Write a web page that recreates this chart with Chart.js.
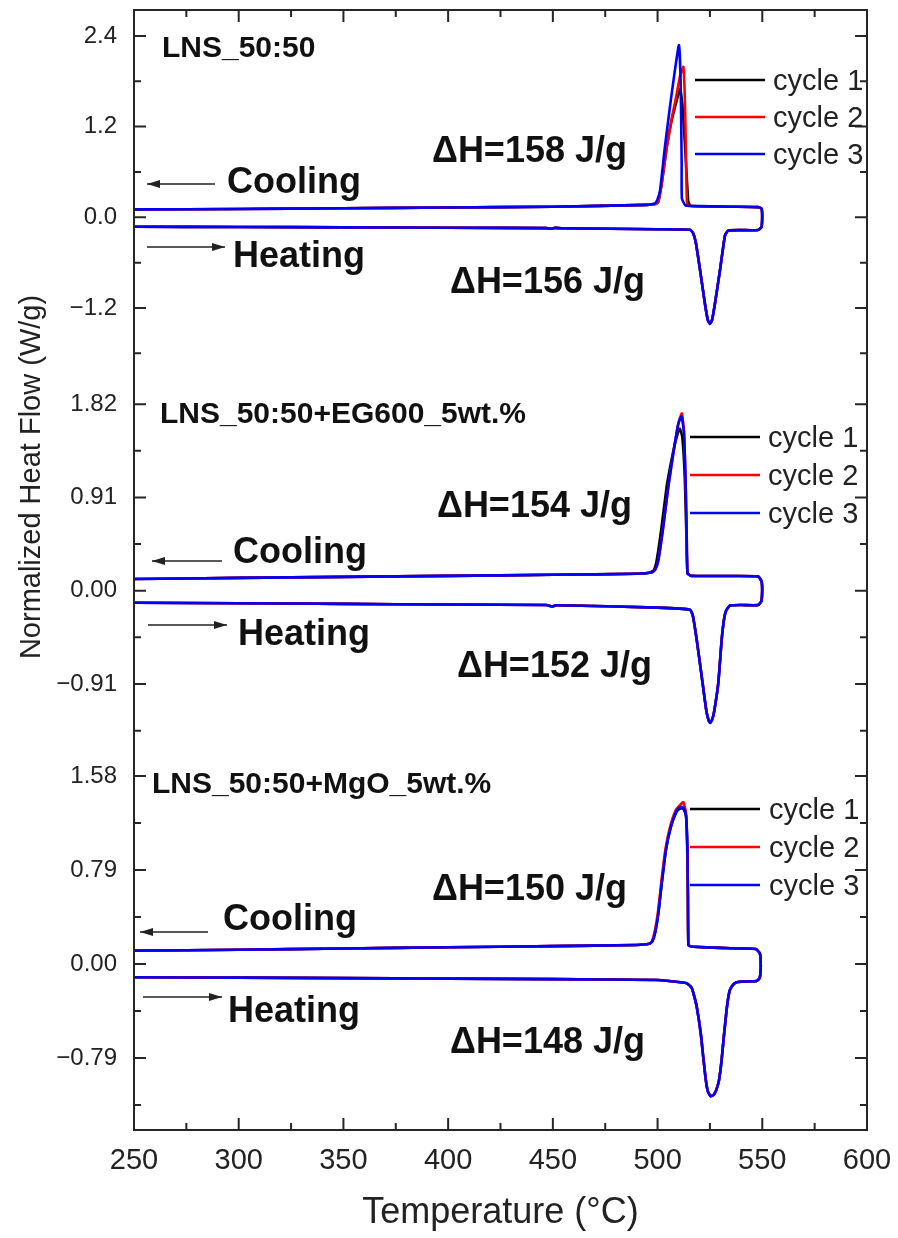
<!DOCTYPE html>
<html>
<head>
<meta charset="utf-8">
<title>DSC cycles</title>
<script src="https://cdn.jsdelivr.net/npm/chart.js@4.4.1/dist/chart.umd.min.js"></script>
<style>
  html, body { margin: 0; padding: 0; background: #fff; }
  canvas { display: block; }
</style>
</head>
<body>
<canvas id="dsc" width="898" height="1238"></canvas>
<script>
// x axis (°C)
const tempTicks = [250, 300, 350, 400, 450, 500, 550, 600];

// y ticks for each stacked panel (W/g)
const ticksA = [-1.2, 0, 1.2, 2.4];
const ticksB = [-0.91, 0, 0.91, 1.82];
const ticksC = [-0.79, 0, 0.79, 1.58];

const cycles = ['cycle 1', 'cycle 2', 'cycle 3'];
const cycleColors = ['#000000', '#ff0000', '#0000ff'];

const panelNames = ['LNS_50:50', 'LNS_50:50+EG600_5wt.%', 'LNS_50:50+MgO_5wt.%'];
const enthalpyCool = [158, 154, 150];
const enthalpyHeat = [156, 152, 148];

// [temperature, heat flow]: heating 250 -> 550, isothermal turn, cooling 550 -> 250
const heatA = [[250,-0.125],[300,-0.128],[350,-0.133],[400,-0.138],[447,-0.143],[449.5,-0.152],[451,-0.14],[454,-0.145],[500,-0.158],[515.5,-0.165],[517,-0.21],[518.3,-0.34],[520.3,-0.70],[522.6,-1.14],[524,-1.36],[525,-1.41],[526,-1.36],[527.4,-1.14],[529.8,-0.70],[531.4,-0.38],[532.3,-0.23],[533.8,-0.175],[540,-0.17],[548,-0.168],[549.6,-0.13],[549.9,-0.05],[549.9,0.07],[549.6,0.115],[548,0.135],[535,0.14],[516,0.15]];
const coolA1 = [[515.5,0.16],[514.7,0.2],[514,0.5],[513,1.0],[511.8,1.5],[510.7,1.70],[508.9,1.52],[506.7,1.28],[504.4,0.93],[502,0.45],[500.3,0.2],[498.8,0.175],[495,0.165],[450,0.14],[400,0.13],[350,0.12],[300,0.11],[250,0.105]];
const coolA2 = [[514.2,0.17],[513.9,0.3],[513.5,0.9],[513.0,1.6],[512.3,1.99],[510.8,1.88],[508.9,1.6],[506.7,1.3],[504.4,0.93],[502,0.45],[500.3,0.2],[498.8,0.175],[495,0.165],[450,0.14],[400,0.13],[350,0.12],[300,0.11],[250,0.105]];
const coolA3 = [[513.2,0.16],[511.6,0.25],[511.5,0.71],[511.0,1.82],[510.2,2.28],[508.3,1.95],[505.9,1.46],[503.5,0.93],[501.2,0.36],[500,0.24],[498.8,0.185],[495,0.165],[450,0.14],[400,0.13],[350,0.12],[300,0.11],[250,0.105]];

const heatB = [[250,-0.117],[300,-0.122],[350,-0.128],[400,-0.135],[447,-0.14],[449.5,-0.155],[451.5,-0.142],[500,-0.165],[515.5,-0.185],[516.8,-0.24],[518.7,-0.48],[521.1,-0.84],[523.2,-1.16],[524.3,-1.26],[525.1,-1.29],[526,-1.26],[527,-1.18],[529,-0.90],[530.6,-0.48],[531.8,-0.27],[532.8,-0.19],[534.6,-0.145],[540,-0.14],[548,-0.14],[549.6,-0.1],[549.9,-0.03],[549.9,0.05],[549.6,0.095],[548,0.14],[530,0.143],[516,0.145]];
const coolB1 = [[514.3,0.17],[513.8,0.5],[513,1.1],[511.8,1.5],[510.6,1.58],[508.5,1.45],[506.5,1.26],[504.3,1.01],[501.9,0.62],[499.6,0.30],[498.2,0.2],[496,0.175],[490,0.165],[450,0.155],[400,0.145],[350,0.135],[300,0.125],[250,0.114]];
const coolB2 = [[514.3,0.17],[513.9,0.56],[513.4,1.05],[512.6,1.56],[511.6,1.73],[510.6,1.68],[509.6,1.60],[507.5,1.34],[505.1,1.01],[502.7,0.62],[500.4,0.30],[499,0.21],[497.5,0.18],[490,0.165],[450,0.155],[400,0.145],[350,0.135],[300,0.125],[250,0.114]];
const coolB3 = [[514.3,0.17],[513.9,0.56],[513.4,1.05],[512.6,1.54],[511.5,1.70],[510.6,1.67],[509.6,1.60],[507.5,1.34],[505.1,1.01],[502.7,0.62],[500.4,0.30],[499,0.21],[497.5,0.18],[490,0.165],[450,0.155],[400,0.145],[350,0.135],[300,0.125],[250,0.114]];

const heatC = [[250,-0.112],[300,-0.115],[350,-0.119],[400,-0.123],[450,-0.127],[500,-0.135],[512,-0.155],[514,-0.163],[516.3,-0.20],[517.5,-0.27],[518.7,-0.36],[520.6,-0.58],[521.8,-0.78],[523,-0.97],[524,-1.07],[525.3,-1.11],[526.8,-1.10],[528,-1.06],[529.3,-0.98],[530.5,-0.82],[531.7,-0.6],[533,-0.38],[534.2,-0.24],[535.4,-0.19],[537.5,-0.155],[540,-0.148],[547.3,-0.143],[548.7,-0.12],[549.2,-0.06],[549.2,0.04],[548.8,0.09],[547,0.125],[540,0.13],[530,0.135],[517,0.145]];
const coolC1 = [[515.5,0.15],[514.7,0.16],[514.5,0.57],[514.2,0.99],[513.6,1.24],[512.5,1.30],[511.5,1.31],[510.2,1.30],[508.8,1.27],[506.3,1.15],[504,0.96],[502,0.68],[500.4,0.43],[498.8,0.26],[497.5,0.19],[496,0.17],[490,0.16],[450,0.15],[400,0.14],[350,0.13],[300,0.12],[250,0.112]];
const coolC2 = [[515.5,0.15],[514.7,0.16],[514.4,0.6],[514.1,1.0],[513.5,1.28],[512.3,1.36],[511,1.34],[508.6,1.29],[506.1,1.16],[503.8,0.97],[501.8,0.69],[500.2,0.44],[498.6,0.27],[497.3,0.19],[496,0.17],[490,0.16],[450,0.15],[400,0.14],[350,0.13],[300,0.12],[250,0.112]];
const coolC3 = [[515.5,0.15],[514.7,0.16],[514.5,0.57],[514.2,0.99],[513.6,1.25],[512.5,1.31],[511.5,1.32],[510.2,1.31],[508.8,1.28],[506.3,1.15],[504,0.96],[502,0.68],[500.4,0.43],[498.8,0.26],[497.5,0.19],[496,0.17],[490,0.16],[450,0.15],[400,0.14],[350,0.13],[300,0.12],[250,0.112]];

const FONT = 'Arial, "Liberation Sans", sans-serif';
const INK = '#222';

// panels top to bottom; axis ranges chosen so the three layers share the frame
const panels = [
  { id: 'yA', ticks: ticksA, digits: 1, min: -2.197, max: 2.743, heat: heatA, cool: [coolA1, coolA2, coolA3] },
  { id: 'yB', ticks: ticksB, digits: 2, min: -1.619, max: 2.023, heat: heatB, cool: [coolB1, coolB2, coolB3] },
  { id: 'yC', ticks: ticksC, digits: 2, min: -1.395, max: 1.742, heat: heatC, cool: [coolC1, coolC2, coolC3] },
];

// text / arrow / legend placement for each panel (canvas pixels)
const panelDecor = [
  { name: [162, 57], cool: [227, 193], heat: [233, 267], dhCool: [432, 162], dhHeat: [450, 293],
    arrowCool: [147, 215, 184], arrowHeat: [147, 225, 247], legend: { x1: 695, x2: 765, tx: 773, ys: [80, 117, 154] } },
  { name: [160, 423], cool: [233, 563], heat: [238, 645], dhCool: [437, 517], dhHeat: [457, 677],
    arrowCool: [152, 222, 561], arrowHeat: [148, 227, 625], legend: { x1: 690, x2: 760, tx: 768, ys: [437, 475, 513] } },
  { name: [152, 793], cool: [223, 930], heat: [228, 1022], dhCool: [432, 900], dhHeat: [450, 1053],
    arrowCool: [140, 208, 932], arrowHeat: [143, 222, 997], legend: { x1: 690, x2: 760, tx: 769, ys: [809, 847, 885] } },
];

const fmt = (digits) => (value) => {
  const s = Math.abs(value).toFixed(digits);
  return value < -1e-9 ? '\u2212' + s : s;
};

const minorTicks = (major, min, max) => {
  const step = major[1] - major[0];
  const out = [];
  for (let v = major[0] - step / 2; v <= max + 1e-9; v += step) {
    if (v >= min - 1e-9) out.push(v);
  }
  return out;
};

const toPoints = (pairs) => pairs.map(([x, y]) => ({ x, y }));

// label overflow padding would shrink the frame; the layout padding already covers it
const noOverflow = (s) => {
  s.paddingTop = 0;
  s.paddingBottom = 0;
  s.paddingLeft = 0;
  s.paddingRight = 0;
};

const datasets = [];
panels.forEach((p) => {
  p.cool.forEach((cool, i) => {
    datasets.push({
      label: cycles[i],
      data: toPoints(p.heat.concat(cool)),
      yAxisID: p.id,
      xAxisID: 'x',
      borderColor: cycleColors[i],
      borderWidth: 2.6,
      pointRadius: 0,
      showLine: true,
      fill: false,
      tension: 0.15,
      order: 3 - i, // blue on top
    });
  });
});

const scales = {
  x: {
    type: 'linear',
    position: 'bottom',
    min: 250,
    max: 600,
    afterBuildTicks: (s) => { s.ticks = tempTicks.map((value) => ({ value })); },
    afterFit: (s) => { s.height = 108; noOverflow(s); },
    grid: { display: false, drawTicks: false },
    border: { display: false },
    ticks: { padding: 14, color: INK, font: { size: 29 }, maxRotation: 0 },
    title: { display: true, text: 'Temperature (°C)', color: INK, font: { size: 36 }, padding: { top: 0, bottom: 3 } },
  },
};
// bottom panel first: chart.js stacks left axes with the last one on top
[...panels].reverse().forEach((p) => {
  scales[p.id] = {
    type: 'linear',
    position: 'left',
    stack: 'dsc',
    stackWeight: 1,
    min: p.min,
    max: p.max,
    afterBuildTicks: (s) => { s.ticks = p.ticks.map((value) => ({ value })); },
    afterFit: (s) => { s.width = 134; noOverflow(s); },
    grid: { display: false, drawTicks: false },
    border: { display: false },
    ticks: { padding: 17, color: INK, font: { size: 24 }, callback: fmt(p.digits) },
  };
});

const arrow = (ctx, x1, x2, y, headLeft) => {
  ctx.save();
  ctx.strokeStyle = INK;
  ctx.fillStyle = INK;
  ctx.lineWidth = 1.3;
  ctx.beginPath();
  ctx.moveTo(x1, y);
  ctx.lineTo(x2, y);
  ctx.stroke();
  const tip = headLeft ? x1 : x2;
  const back = headLeft ? tip + 13 : tip - 13;
  ctx.beginPath();
  ctx.moveTo(tip, y);
  ctx.lineTo(back, y - 4);
  ctx.lineTo(back, y + 4);
  ctx.closePath();
  ctx.fill();
  ctx.restore();
};

const decorPlugin = {
  id: 'decor',
  afterDraw(chart) {
    const { ctx, chartArea: a, scales: sc } = chart;
    ctx.save();

    // frame
    ctx.strokeStyle = '#262626';
    ctx.lineWidth = 2;
    ctx.strokeRect(a.left, a.top, a.right - a.left, a.bottom - a.top);

    // inward ticks, major + minor, on all four sides
    const xMinor = minorTicks(tempTicks, 250, 600);
    ctx.beginPath();
    tempTicks.forEach((v) => {
      const px = sc.x.getPixelForValue(v);
      ctx.moveTo(px, a.bottom); ctx.lineTo(px, a.bottom - 12);
      ctx.moveTo(px, a.top); ctx.lineTo(px, a.top + 12);
    });
    xMinor.forEach((v) => {
      const px = sc.x.getPixelForValue(v);
      ctx.moveTo(px, a.bottom); ctx.lineTo(px, a.bottom - 7);
      ctx.moveTo(px, a.top); ctx.lineTo(px, a.top + 7);
    });
    panels.forEach((p) => {
      const s = sc[p.id];
      p.ticks.forEach((v) => {
        const py = s.getPixelForValue(v);
        ctx.moveTo(a.left, py); ctx.lineTo(a.left + 12, py);
        ctx.moveTo(a.right, py); ctx.lineTo(a.right - 12, py);
      });
      minorTicks(p.ticks, p.min, p.max).forEach((v) => {
        const py = s.getPixelForValue(v);
        ctx.moveTo(a.left, py); ctx.lineTo(a.left + 7, py);
        ctx.moveTo(a.right, py); ctx.lineTo(a.right - 7, py);
      });
    });
    ctx.stroke();

    // y title
    ctx.save();
    ctx.translate(32, 477);
    ctx.rotate(-Math.PI / 2);
    ctx.fillStyle = INK;
    ctx.font = `29px ${FONT}`;
    ctx.textAlign = 'center';
    ctx.textBaseline = 'middle';
    ctx.fillText('Normalized Heat Flow (W/g)', 0, 0);
    ctx.restore();

    // panel labels, arrows, enthalpies, legends
    ctx.fillStyle = '#111';
    ctx.textAlign = 'left';
    ctx.textBaseline = 'alphabetic';
    panelDecor.forEach((d, i) => {
      ctx.font = `bold 30px ${FONT}`;
      ctx.fillText(panelNames[i], d.name[0], d.name[1]);
      ctx.font = `bold 36px ${FONT}`;
      ctx.fillText('Cooling', d.cool[0], d.cool[1]);
      ctx.fillText('Heating', d.heat[0], d.heat[1]);
      ctx.fillText(`\u0394H=${enthalpyCool[i]} J/g`, d.dhCool[0], d.dhCool[1]);
      ctx.fillText(`\u0394H=${enthalpyHeat[i]} J/g`, d.dhHeat[0], d.dhHeat[1]);
      arrow(ctx, d.arrowCool[0], d.arrowCool[1], d.arrowCool[2], true);
      arrow(ctx, d.arrowHeat[0], d.arrowHeat[1], d.arrowHeat[2], false);

      const lg = d.legend;
      cycles.forEach((c, k) => {
        ctx.strokeStyle = cycleColors[k];
        ctx.lineWidth = 2.5;
        ctx.beginPath();
        ctx.moveTo(lg.x1, lg.ys[k]);
        ctx.lineTo(lg.x2, lg.ys[k]);
        ctx.stroke();
        ctx.fillStyle = INK;
        ctx.font = `29px ${FONT}`;
        ctx.fillText(c, lg.tx, lg.ys[k] + 10);
      });
      ctx.fillStyle = '#111';
    });
    ctx.restore();
  },
};

Chart.defaults.font.family = FONT;

new Chart(document.getElementById('dsc').getContext('2d'), {
  type: 'scatter',
  data: { datasets },
  options: {
    responsive: false,
    animation: false,
    devicePixelRatio: 1,
    layout: { padding: { top: 10, right: 31, left: 0, bottom: 0 } },
    plugins: { legend: { display: false }, tooltip: { enabled: false } },
    scales,
  },
  plugins: [decorPlugin],
});
</script>
</body>
</html>
